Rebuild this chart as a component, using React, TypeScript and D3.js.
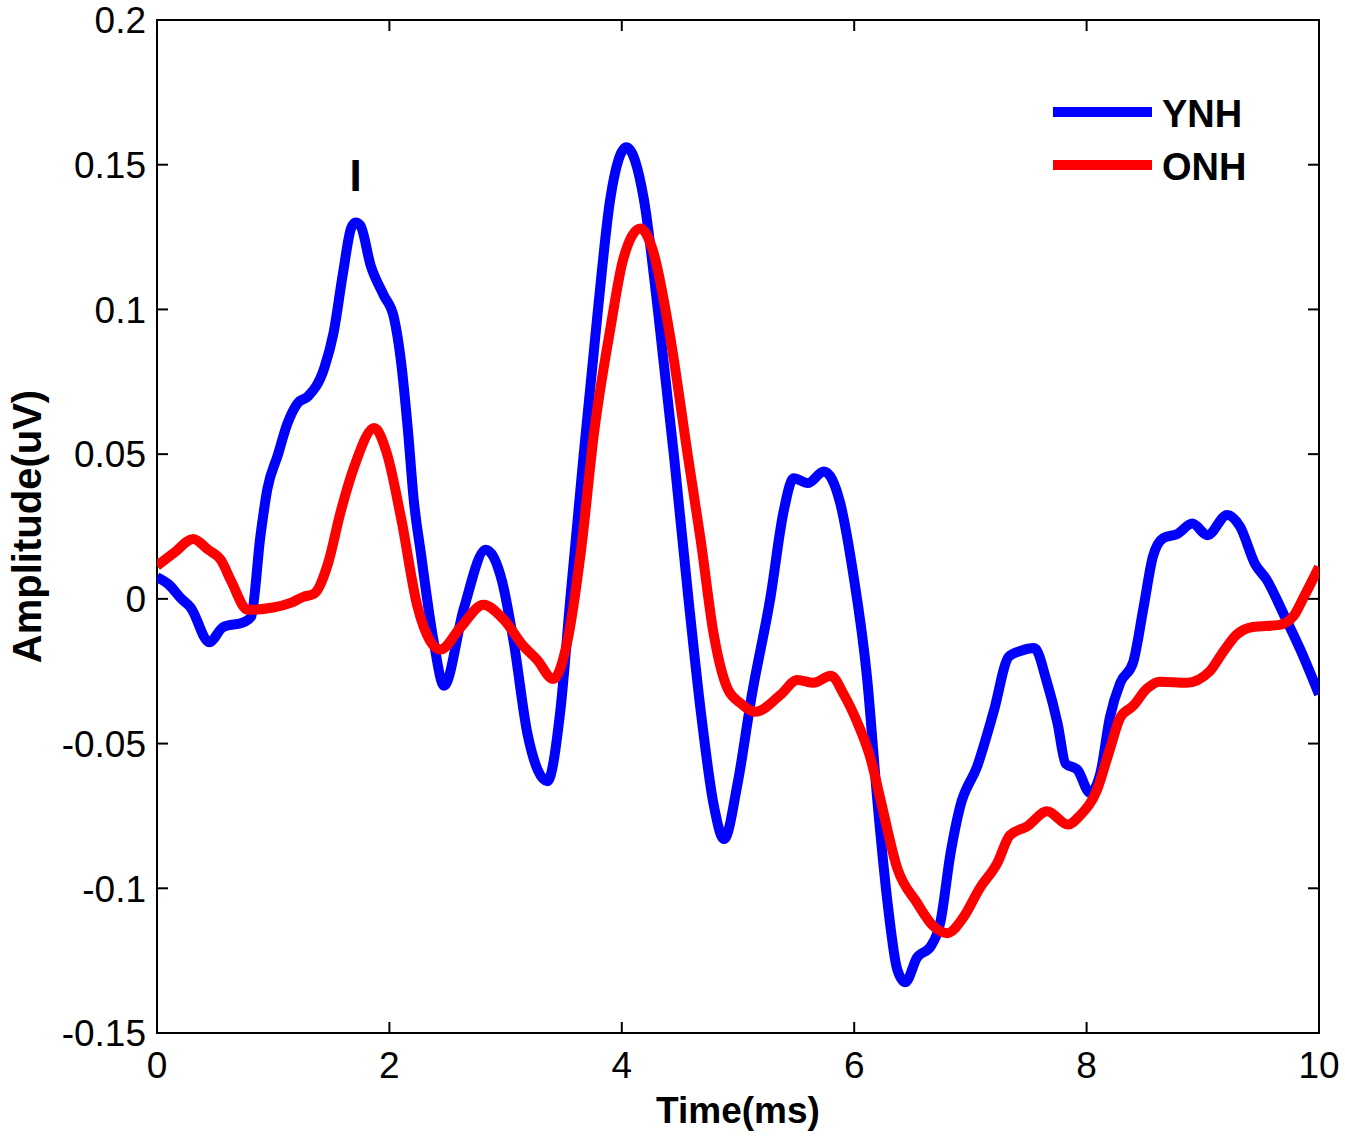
import React from "react";
import * as d3 from "d3";

const xTicks = [0, 2, 4, 6, 8, 10];
const yTicks = [0.2, 0.15, 0.1, 0.05, 0, -0.05, -0.1, -0.15];
const yTickLabels = ["0.2", "0.15", "0.1", "0.05", "0", "-0.05", "-0.1", "-0.15"];

const ynhTime = [0, 0.1, 0.21, 0.29, 0.45, 0.57, 0.75, 0.81, 0.89, 0.95, 1.04, 1.12, 1.21, 1.3, 1.44, 1.52, 1.6, 1.67, 1.71, 1.75, 1.84, 1.95, 2.04, 2.1, 2.16, 2.21, 2.27, 2.38, 2.47, 2.64, 2.83, 2.97, 3.07, 3.19, 3.36, 3.47, 3.56, 3.67, 3.79, 3.9, 4.04, 4.19, 4.31, 4.45, 4.57, 4.68, 4.79, 4.88, 5.0, 5.12, 5.28, 5.39, 5.48, 5.6, 5.74, 5.88, 5.99, 6.11, 6.2, 6.29, 6.37, 6.44, 6.54, 6.66, 6.74, 6.83, 6.91, 7.06, 7.2, 7.33, 7.43, 7.55, 7.66, 7.75, 7.82, 7.92, 8.03, 8.12, 8.2, 8.29, 8.4, 8.49, 8.57, 8.66, 8.78, 8.91, 9.04, 9.21, 9.32, 9.45, 9.55, 9.69, 9.84, 10.0];
const ynhAmp = [0.0075, 0.005, 0.0, -0.003, -0.015, -0.0097, -0.008, -0.0062, 0.0217, 0.038, 0.0497, 0.0603, 0.0676, 0.07, 0.0798, 0.092, 0.1124, 0.128, 0.13, 0.129, 0.115, 0.105, 0.097, 0.082, 0.058, 0.034, 0.016, -0.0145, -0.03, -0.0034, 0.017, 0.006, -0.015, -0.047, -0.063, -0.039, 0.0014, 0.049, 0.098, 0.138, 0.156, 0.138, 0.1, 0.049, 0.0014, -0.039, -0.071, -0.083, -0.063, -0.033, 0.0007, 0.0297, 0.0417, 0.04, 0.044, 0.033, 0.009, -0.027, -0.07, -0.106, -0.128, -0.1325, -0.124, -0.12, -0.112, -0.0877, -0.072, -0.0577, -0.039, -0.02, -0.018, -0.017, -0.029, -0.043, -0.057, -0.059, -0.067, -0.06, -0.041, -0.029, -0.022, -0.003, 0.0145, 0.021, 0.0224, 0.026, 0.022, 0.029, 0.025, 0.012, 0.0066, -0.0048, -0.0176, -0.033];

const onhTime = [0, 0.15, 0.31, 0.44, 0.55, 0.64, 0.78, 1.0, 1.15, 1.26, 1.35, 1.47, 1.58, 1.7, 1.87, 1.98, 2.1, 2.24, 2.35, 2.44, 2.61, 2.81, 2.98, 3.16, 3.27, 3.41, 3.53, 3.65, 3.76, 3.9, 4.01, 4.16, 4.27, 4.42, 4.57, 4.68, 4.79, 4.91, 5.02, 5.15, 5.37, 5.51, 5.65, 5.8, 5.91, 6.03, 6.14, 6.23, 6.37, 6.54, 6.68, 6.8, 6.94, 7.08, 7.23, 7.34, 7.49, 7.66, 7.84, 7.94, 8.09, 8.2, 8.29, 8.4, 8.52, 8.63, 8.86, 9.06, 9.17, 9.29, 9.43, 9.66, 9.78, 9.87, 10.0];
const onhAmp = [0.0114, 0.016, 0.0207, 0.017, 0.0134, 0.006, -0.0038, -0.003, -0.0014, 0.0007, 0.0017, 0.012, 0.03, 0.046, 0.059, 0.05, 0.028, -0.0024, -0.0145, -0.0175, -0.01, -0.002, -0.007, -0.0166, -0.021, -0.0277, -0.015, 0.017, 0.057, 0.093, 0.117, 0.128, 0.12, 0.0897, 0.049, 0.02, -0.012, -0.031, -0.036, -0.039, -0.033, -0.028, -0.029, -0.0266, -0.033, -0.043, -0.055, -0.07, -0.093, -0.105, -0.113, -0.1155, -0.11, -0.1, -0.0914, -0.0817, -0.0786, -0.0734, -0.078, -0.075, -0.066, -0.052, -0.041, -0.037, -0.031, -0.0286, -0.029, -0.025, -0.0186, -0.0124, -0.0097, -0.009, -0.006, 0.0007, 0.011];

const seriesNames = ["YNH", "ONH"];
const seriesColors = ["#0000FF", "#FF0000"];

const W = 1345;
const H = 1138;
const left = 157;
const right = 1319;
const top = 20;
const bottom = 1033;
const font = "'Liberation Sans', Arial, Helvetica, sans-serif";

export default function App() {
  const x = d3.scaleLinear().domain([0, 10]).range([left, right]);
  const y = d3.scaleLinear().domain([-0.15, 0.2]).range([bottom, top]);
  const line = d3
    .line<[number, number]>()
    .x((d) => x(d[0]))
    .y((d) => y(d[1]))
    .curve(d3.curveMonotoneX);

  const ynh: [number, number][] = ynhTime.map((t, i) => [t, ynhAmp[i]]);
  const onh: [number, number][] = onhTime.map((t, i) => [t, onhAmp[i]]);
  const series = [ynh, onh];
  const tl = 11;

  return (
    <svg
      width={W}
      height={H}
      style={{ position: "absolute", left: 0, top: 0, display: "block", background: "#fff" }}
      fontFamily={font}
    >
      <rect x={0} y={0} width={W} height={H} fill="#fff" />
      <defs>
        <clipPath id="plotclip">
          <rect x={left} y={top} width={right - left} height={bottom - top} />
        </clipPath>
      </defs>
      <rect x={left} y={top} width={right - left} height={bottom - top} fill="none" stroke="#000" strokeWidth={2} />
      {xTicks.map((t) => (
        <g key={"x" + t}>
          <line x1={x(t)} x2={x(t)} y1={bottom} y2={bottom - tl} stroke="#000" strokeWidth={2} />
          <line x1={x(t)} x2={x(t)} y1={top} y2={top + tl} stroke="#000" strokeWidth={2} />
          <text x={x(t)} y={1078} fontSize={37} textAnchor="middle" fill="#000">
            {t}
          </text>
        </g>
      ))}
      {yTicks.map((v, i) => (
        <g key={"y" + i}>
          <line x1={left} x2={left + tl} y1={y(v)} y2={y(v)} stroke="#000" strokeWidth={2} />
          <line x1={right} x2={right - tl} y1={y(v)} y2={y(v)} stroke="#000" strokeWidth={2} />
          <text x={146} y={y(v)} dy="0.36em" fontSize={37} textAnchor="end" fill="#000">
            {yTickLabels[i]}
          </text>
        </g>
      ))}
      <g clipPath="url(#plotclip)">
        {series.map((s, i) => (
          <path
            key={seriesNames[i]}
            d={line(s) || ""}
            fill="none"
            stroke={seriesColors[i]}
            strokeWidth={10}
            strokeLinejoin="round"
          />
        ))}
      </g>
      <text x={x(1.71)} y={191} fontSize={44} fontWeight="bold" textAnchor="middle" fill="#000">
        I
      </text>
      {seriesNames.map((n, i) => (
        <g key={"leg" + n}>
          <line x1={1053} x2={1152} y1={112 + i * 53} y2={112 + i * 53} stroke={seriesColors[i]} strokeWidth={10} />
          <text x={1162} y={127 + i * 53} fontSize={38} fontWeight="bold" fill="#000">
            {n}
          </text>
        </g>
      ))}
      <text x={(left + right) / 2} y={1123} fontSize={37} fontWeight="bold" textAnchor="middle" fill="#000">
        Time(ms)
      </text>
      <text
        transform={`translate(41, ${(top + bottom) / 2}) rotate(-90)`}
        fontSize={40}
        fontWeight="bold"
        textAnchor="middle"
        fill="#000"
      >
        Amplitude(uV)
      </text>
    </svg>
  );
}
